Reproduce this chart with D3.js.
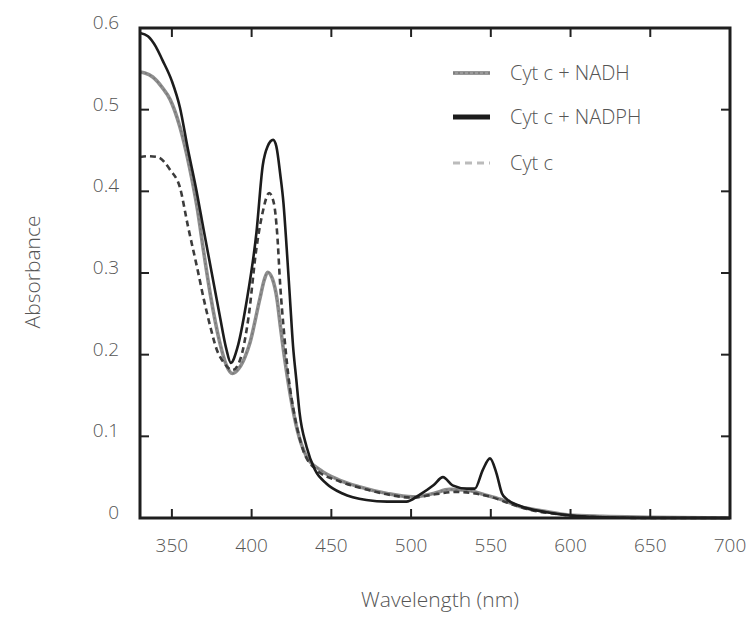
<!DOCTYPE html>
<html>
<head>
<meta charset="utf-8">
<script src="https://cdn.jsdelivr.net/npm/d3@7"></script>
<style>
  body { margin: 0; background: #fff; }
  svg text { font-family: 'Open Sans', 'Noto Sans', sans-serif; font-weight: 300; fill: #555; }
</style>
</head>
<body>
<svg id="chart" width="750" height="622"></svg>
<script>
// absorbance spectra, [wavelength nm, absorbance]
var nadph = [
    [330, 0.594], [335, 0.590], [340, 0.577], [344, 0.561], [350, 0.535], [355, 0.503],
    [360, 0.452], [365, 0.405], [370, 0.352], [375, 0.300], [380, 0.248], [384, 0.208],
    [387, 0.190], [391, 0.208], [397, 0.267], [403, 0.349], [407, 0.432], [410, 0.455],
    [413.5, 0.463], [415.5, 0.455], [418, 0.42], [420, 0.385], [422, 0.33], [424, 0.27],
    [426, 0.21], [428, 0.17], [430, 0.13], [434.5, 0.087], [439.7, 0.059], [447, 0.042],
    [457, 0.030], [472, 0.022], [485, 0.020], [497, 0.020], [505, 0.028], [514, 0.040],
    [520, 0.050], [526, 0.040], [535, 0.036], [540, 0.036], [545, 0.059], [549.5, 0.073],
    [553.5, 0.055], [557, 0.030], [560, 0.023], [568, 0.015], [585, 0.007], [600, 0.003],
    [620, 0.001], [650, 0], [700, 0]
]
var nadh = [
    [330, 0.546], [333, 0.545], [338, 0.540], [344, 0.527], [349, 0.512], [355, 0.479],
    [361, 0.430], [366, 0.378], [370, 0.325], [374, 0.275], [380, 0.215], [384, 0.188],
    [388, 0.177], [392, 0.183], [396, 0.198], [399, 0.215], [405, 0.267], [408, 0.292],
    [410, 0.301], [413, 0.293], [416, 0.267], [418, 0.235], [420, 0.205], [424.4, 0.149],
    [428.6, 0.108], [434.5, 0.075], [443, 0.059], [455, 0.0465], [468, 0.038], [485, 0.030],
    [501, 0.026], [514, 0.030], [524, 0.035], [535, 0.034], [547, 0.028], [556, 0.023],
    [568, 0.014], [585, 0.008], [598, 0.004], [620, 0.002], [650, 0.001], [700, 0]
]
var cytc = [
    [330, 0.442], [335, 0.443], [341, 0.442], [349, 0.426], [355, 0.405], [360, 0.358],
    [366, 0.305], [370, 0.268], [374, 0.235], [378, 0.207], [383, 0.189], [388, 0.181],
    [393, 0.195], [398, 0.245], [403, 0.33], [407, 0.375], [411, 0.398], [414, 0.385],
    [416, 0.349], [418, 0.283], [420, 0.234], [423, 0.175], [427, 0.125], [432, 0.085],
    [440, 0.06], [455, 0.045], [470, 0.036], [485, 0.029], [500, 0.025], [515, 0.029],
    [528, 0.032], [540, 0.030], [550, 0.026], [560, 0.019], [575, 0.010], [595, 0.004],
    [620, 0.001], [650, 0], [700, 0]
]
var xTicks = [350, 400, 450, 500, 550, 600, 650, 700]
var yTicks = [0, 0.1, 0.2, 0.3, 0.4, 0.5, 0.6]
var legendLabels = ['Cyt c + NADH', 'Cyt c + NADPH', 'Cyt c']

var svg = d3.select('#chart')
var x = d3.scaleLinear().domain([330, 700]).range([140, 730])
var y = d3.scaleLinear().domain([0, 0.6]).range([518, 28])
var tickLen = 9

var line = d3.line()
    .x(function(d) { return x(d[0]) })
    .y(function(d) { return y(d[1]) })
    .curve(d3.curveMonotoneX)

// curves: gray first, dashed over it, black on top
svg.append('path').datum(nadh)
    .attr('d', line).attr('fill', 'none')
    .attr('stroke', '#8e8e8e').attr('stroke-width', 3.6)
svg.append('path').datum(nadh)
    .attr('d', line).attr('fill', 'none')
    .attr('stroke', '#777').attr('stroke-width', 1.4)
    .attr('stroke-dasharray', '2,3')
svg.append('path').datum(cytc)
    .attr('d', line).attr('fill', 'none')
    .attr('stroke', '#3c3c3c').attr('stroke-width', 2.6)
    .attr('stroke-dasharray', '6,4')
svg.append('path').datum(nadph)
    .attr('d', line).attr('fill', 'none')
    .attr('stroke', '#1c1c1c').attr('stroke-width', 2.6)

// frame with inward ticks on every side
var x0 = x.range()[0], x1 = x.range()[1], y0 = y.range()[0], y1 = y.range()[1]
var ticks = svg.append('g').attr('stroke', '#222').attr('stroke-width', 2)
xTicks.forEach(function(t) {
    ticks.append('line').attr('x1', x(t)).attr('x2', x(t)).attr('y1', y0).attr('y2', y0 - tickLen)
    ticks.append('line').attr('x1', x(t)).attr('x2', x(t)).attr('y1', y1).attr('y2', y1 + tickLen)
})
yTicks.forEach(function(t) {
    ticks.append('line').attr('x1', x0).attr('x2', x0 + tickLen).attr('y1', y(t)).attr('y2', y(t))
    ticks.append('line').attr('x1', x1).attr('x2', x1 - tickLen).attr('y1', y(t)).attr('y2', y(t))
})
svg.append('rect')
    .attr('x', x0).attr('y', y1)
    .attr('width', x1 - x0).attr('height', y0 - y1)
    .attr('fill', 'none').attr('stroke', '#1e1e1e').attr('stroke-width', 3)

// tick labels
svg.selectAll('.xl').data(xTicks).enter().append('text')
    .attr('x', function(d) { return x(d) })
    .attr('y', 552)
    .attr('text-anchor', 'middle')
    .attr('font-size', 19)
    .text(function(d) { return d })
svg.selectAll('.yl').data(yTicks).enter().append('text')
    .attr('x', 119)
    .attr('y', function(d) { return y(d) + 1 })
    .attr('text-anchor', 'end')
    .attr('font-size', 19)
    .text(function(d) { return d === 0 ? '0' : d3.format('.1f')(d) })

// axis titles
svg.append('text')
    .attr('x', 440).attr('y', 607)
    .attr('text-anchor', 'middle').attr('font-size', 21)
    .text('Wavelength (nm)')
svg.append('text')
    .attr('transform', 'translate(40,272) rotate(-90)')
    .attr('text-anchor', 'middle').attr('font-size', 21)
    .text('Absorbance')

// legend
var legendY = [73, 117, 163]
var legend = svg.append('g')
legend.append('line').attr('x1', 453).attr('x2', 490).attr('y1', legendY[0]).attr('y2', legendY[0])
    .attr('stroke', '#999').attr('stroke-width', 4)
legend.append('line').attr('x1', 453).attr('x2', 490).attr('y1', legendY[0]).attr('y2', legendY[0])
    .attr('stroke', '#777').attr('stroke-width', 1.4).attr('stroke-dasharray', '2,3')
legend.append('line').attr('x1', 453).attr('x2', 490).attr('y1', legendY[1]).attr('y2', legendY[1])
    .attr('stroke', '#1c1c1c').attr('stroke-width', 5)
legend.append('line').attr('x1', 453).attr('x2', 490).attr('y1', legendY[2]).attr('y2', legendY[2])
    .attr('stroke', '#bbb').attr('stroke-width', 3).attr('stroke-dasharray', '7,5')
legend.selectAll('text').data(legendLabels).enter().append('text')
    .attr('x', 510)
    .attr('y', function(d, i) { return legendY[i] + 7 })
    .attr('font-size', 20)
    .text(function(d) { return d })
</script>
</body>
</html>
